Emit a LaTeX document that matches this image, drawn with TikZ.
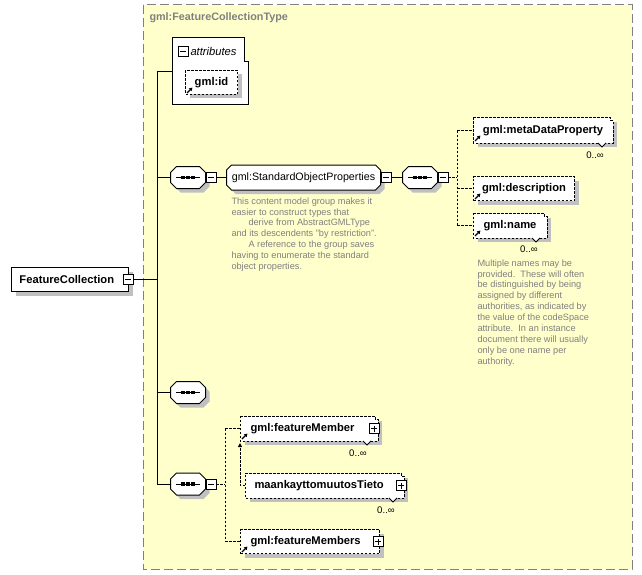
\documentclass[tikz,border=0pt]{standalone}
\usepackage{fontspec}
\setmainfont{Liberation Sans}
\usetikzlibrary{shadows,arrows.meta}
\definecolor{bgyel}{RGB}{255,255,204}
\definecolor{shgray}{RGB}{192,192,192}
\definecolor{txtgray}{RGB}{128,128,128}
% octagon outline around a named node
\newcommand\octpath[2]{([xshift=#2]#1.north west) -- ([xshift=-#2]#1.north east) -- ([yshift=-#2]#1.north east) -- ([yshift=#2]#1.south east) -- ([xshift=-#2]#1.south east) -- ([xshift=#2]#1.south west) -- ([yshift=#2]#1.south west) -- ([yshift=-#2]#1.north west) -- cycle}
\newcommand\octo[2]{%
  \fill[shgray,transform canvas={xshift=4pt,yshift=-4pt}] \octpath{#1}{#2};
  \draw[fill=white] \octpath{#1}{#2};}
% dashed outline with notched top-right corner (repeated element)
\newcommand\notchbox[1]{\draw[opt] (#1.north west) -- ([xshift=-3pt]#1.north east) -- ([xshift=-3pt,yshift=-3pt]#1.north east) -- ([yshift=-3pt]#1.north east) -- (#1.south east) -- (#1.south west) -- cycle;}
\newcommand\vnotch[1]{\draw[fill=white,line width=0.8pt] ([xshift=-15pt]#1.south east) -- ([xshift=-11pt,yshift=-4pt]#1.south east) -- ([xshift=-7pt]#1.south east);}
\newcommand\refarrow[1]{\draw[line width=1.2pt,-{Triangle[length=3.2pt,width=3.6pt]}] ([shift={(2,-2)}]#1.south west) -- ++(5.5,-5.5);}
\newcommand\seqdots[1]{%
  \draw[line width=1pt] ([xshift=-12pt]#1.center) -- ([xshift=12pt]#1.center);
  \foreach \d in {-5,0,5}{\fill ([shift={(\d-1.7,-1.7)}]#1.center) rectangle ([shift={(\d+1.7,1.7)}]#1.center);}}
\begin{document}
\begin{tikzpicture}[x=1pt,y=-1pt,line width=1pt,
  elemfont/.style={font=\fontsize{11.2}{13}\selectfont\bfseries},
  sh/.style={drop shadow={shadow xshift=4pt,shadow yshift=-4pt,fill=shgray,opacity=1}},
  el/.style={draw,fill=white,anchor=north west,inner sep=0pt,minimum height=24pt,elemfont},
  opt/.style={dash pattern=on 2.5pt off 1.5pt},
  pmbox/.style={draw,fill=white,minimum size=10pt,inner sep=0pt,line width=0.8pt,anchor=west},
  minusbox/.style={pmbox,path picture={\draw[line width=0.8pt] ([xshift=2pt]path picture bounding box.west) -- ([xshift=-2pt]path picture bounding box.east);}},
  plusbox/.style={pmbox,anchor=center,path picture={\draw[line width=0.8pt] ([xshift=2pt]path picture bounding box.west) -- ([xshift=-2pt]path picture bounding box.east) ([yshift=2pt]path picture bounding box.south) -- ([yshift=-2pt]path picture bounding box.north);}},
  seq/.style={minimum width=34pt,minimum height=21pt,inner sep=0pt},
  mult/.style={font=\fontsize{9.6}{11}\selectfont,anchor=center},
  note/.style={font=\fontsize{9.2}{10.9}\selectfont,text=txtgray,align=left,anchor=north west,inner sep=0pt}
]
\useasboundingbox (0,0) rectangle (642,575);
% background type box
\draw[fill=bgyel,draw=txtgray,dash pattern=on 9pt off 4pt] (143,5) rectangle (632,569);
\node[anchor=west,inner sep=0pt,text=txtgray,font=\fontsize{10.8}{12}\selectfont\bfseries] (title) at (149,18) {gml:FeatureCollectionType};

% main element
\node[el,sh,minimum width=117pt] (fc) at (11,267) {\makebox[117pt][l]{\hspace{8pt}FeatureCollection}};
\node[minusbox] (fcm) at ([xshift=-6pt]fc.east) {};

% bus
\coordinate (bus) at (157,0);

% attributes
\node[anchor=north west,inner sep=0pt,minimum width=76pt,minimum height=67pt] (attr) at (172,38) {};
\draw[fill=white] (172,38) -- (244,38) -- (244,62) -- (248,62) -- (248,105) -- (172,105) -- cycle;
\node[minusbox,anchor=center] (attrm) at (183,51) {};
\node[anchor=west,inner sep=0pt,font=\fontsize{11.2}{13}\selectfont\itshape] (attrt) at (190,51) {attributes};
\node[el,sh,opt,minimum width=52pt] (gid) at (185,70) {\makebox[52pt][c]{gml:id}};
\refarrow{gid}

% sequences and group (shapes)
\node[seq] (s1) at (188,177.5) {};
\node[minimum width=153pt,minimum height=24pt,inner sep=0pt] (sop) at (303.5,177.5) {};
\node[seq] (s1b) at (420,177.5) {};
\node[seq] (s2) at (188,392.5) {};
\node[seq] (s3) at (188,484) {};
\octo{s1}{6pt}
\octo{sop}{5pt}
\octo{s1b}{6pt}
\octo{s2}{6pt}
\octo{s3}{6pt}
\seqdots{s1}\seqdots{s1b}\seqdots{s2}\seqdots{s3}
\node[inner sep=0pt,font=\fontsize{10.7}{12}\selectfont] (sopt) at (sop.center) {gml:StandardObjectProperties};
\node[minusbox] (s1m) at (s1.east) {};
\node[minusbox] (sopm) at (sop.east) {};
\node[minusbox] (s1bm) at (s1b.east) {};
\node[minusbox] (s3m) at (s3.east) {};

\node[note] (n1) at (231,197) {This content model group makes it\\easier to construct types that\\\hspace*{17pt}derive from AbstractGMLType\\and its descendents "by restriction".\\\hspace*{17pt}A reference to the group saves\\having to enumerate the standard\\object properties.};

% children of sequence 1b
\node[el,sh,draw=none,minimum width=139pt] (md) at (473,118) {\makebox[139pt][c]{gml:metaDataProperty}};
\notchbox{md}
\refarrow{md}
\vnotch{md}
\node[mult] (mdm) at (595,155) {0..∞};

\node[el,sh,opt,minimum width=101pt] (desc) at (473,176) {\makebox[101pt][c]{gml:description}};
\refarrow{desc}

\node[el,sh,draw=none,minimum width=73pt] (nm) at (473,213) {\makebox[73pt][c]{gml:name}};
\notchbox{nm}
\refarrow{nm}
\vnotch{nm}
\node[mult] (nmm) at (529,249) {0..∞};

\node[note] (n2) at (477,259) {Multiple names may be\\provided.\ \ These will often\\be distinguished by being\\assigned by different\\authorities, as indicated by\\the value of the codeSpace\\attribute.\ \ In an instance\\document there will usually\\only be one name per\\authority.};

% children of sequence 3
\node[el,sh,draw=none,minimum width=137pt] (fm) at (240,416) {\makebox[137pt][l]{\hspace{10pt}gml:featureMember}};
\notchbox{fm}
\node[plusbox] (fmp) at ([xshift=-4pt]fm.east) {};
\refarrow{fm}
\vnotch{fm}
\node[mult] (fmm) at (358,453) {0..∞};

\node[el,sh,draw=none,minimum width=158pt] (mk) at (245,473) {\makebox[158pt][l]{\hspace{9pt}maankayttomuutosTieto}};
\notchbox{mk}
\node[plusbox] (mkp) at ([xshift=-3pt]mk.east) {};
\vnotch{mk}
\node[mult] (mkm) at (386,510) {0..∞};

\node[el,sh,opt,minimum width=139pt] (fms) at (240,529) {\makebox[139pt][l]{\hspace{10pt}gml:featureMembers}};
\node[plusbox] (fmsp) at ([xshift=-2pt]fms.east) {};
\refarrow{fms}

% connectors: main
\draw (fcm.east) -- (fcm.east -| bus);
\draw (attr.west -| bus) -- (s3.west -| bus);
\draw (attr.west -| bus) -- (attr.west);
\draw (s1.west -| bus) -- (s1.west);
\draw (s2.west -| bus) -- (s2.west);
\draw (s3.west -| bus) -- (s3.west);
\draw (s1m.east) -- (sop.west);
\draw (sopm.east) -- (s1b.west);

% connectors: dashed children
\coordinate (bus2) at (457,0);
\draw[opt] (s1bm.east) -- (s1bm.east -| bus2);
\draw[opt] (md.west -| bus2) -- (nm.west -| bus2);
\draw[opt] (md.west -| bus2) -- (md.west);
\draw[opt] (desc.west -| bus2) -- (desc.west);
\draw[opt] (nm.west -| bus2) -- (nm.west);

\coordinate (bus3) at (225,0);
\draw[opt] (s3m.east) -- (s3m.east -| bus3);
\draw[opt] (fm.west -| bus3) -- (fms.west -| bus3);
\draw[opt] (fm.west -| bus3) -- (fm.west);
\draw[opt] (fms.west -| bus3) -- (fms.west);
\draw[opt,-{Triangle[length=4pt,width=4pt]}] (mk.west) -| ([yshift=-2pt]fm.south west);
\end{tikzpicture}
\end{document}
